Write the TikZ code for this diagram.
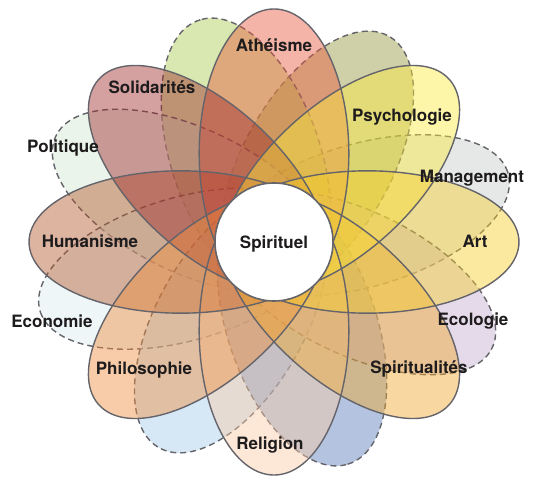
\documentclass[tikz,border=0pt]{standalone}
\usepackage{fontspec}
\setsansfont{TeX Gyre Heros}
\definecolor{edge}{RGB}{100,100,106}
\definecolor{labeltext}{RGB}{30,27,28}
\definecolor{atheisme}{RGB}{231,88,62}
\definecolor{solidarites}{RGB}{159,44,44}
\definecolor{vert}{RGB}{168,204,79}
\definecolor{politique}{RGB}{208,230,208}
\definecolor{humanisme}{RGB}{179,88,44}
\definecolor{economie}{RGB}{217,235,239}
\definecolor{philosophie}{RGB}{239,142,62}
\definecolor{bleuclair}{RGB}{164,204,235}
\definecolor{religion}{RGB}{250,204,168}
\definecolor{bleu}{RGB}{88,124,186}
\definecolor{spiritualites}{RGB}{239,168,44}
\definecolor{ecologie}{RGB}{195,173,208}
\definecolor{art}{RGB}{246,206,44}
\definecolor{management}{RGB}{199,204,204}
\definecolor{psychologie}{RGB}{250,233,62}
\definecolor{olive}{RGB}{151,151,62}
\tikzset{
	petalfill/.style={fill opacity=0.45},
	solidline/.style={draw=edge, line width=1.4pt},
	dashedpetal/.style={petalfill, draw=edge, line width=1.4pt, dash pattern=on 6pt off 4pt},
	petallabel/.style={font=\sffamily\bfseries\fontsize{17}{20}\selectfont, text=labeltext, text height=12.2pt, text depth=0pt, inner sep=0pt}
}
\def\petal[#1](#2){\path[#1, shift={(274pt,243pt)}, xscale=1.025, yscale=0.975, rotate=#2] (91pt,0pt) ellipse [x radius=148pt, y radius=73pt];}

\begin{document}
\begin{tikzpicture}[x=1pt, y=1pt]
			%%%%% START %%%%%
			\useasboundingbox (0, 0) rectangle (539, 485);
			
			% dashed petals
			\petal[dashedpetal, fill=management](17.5)
			\petal[dashedpetal, fill=olive](62.5)
			\petal[dashedpetal, fill=vert](107.5)
			\petal[dashedpetal, fill=politique](152.5)
			\petal[dashedpetal, fill=economie](197.5)
			\petal[dashedpetal, fill=bleuclair](242.5)
			\petal[dashedpetal, fill=bleu](287.5)
			\petal[dashedpetal, fill=ecologie](332.5)
			
			% solid petals
			\petal[petalfill, fill=religion](270)
			\petal[petalfill, fill=humanisme](180)
			\petal[petalfill, fill=atheisme](90)
			\petal[petalfill, fill=solidarites](135)
			\petal[petalfill, fill=philosophie](225)
			\petal[petalfill, fill=spiritualites](315)
			\petal[petalfill, fill=psychologie](45)
			\petal[petalfill, fill=art](0)
			
			\petal[solidline](0)
			\petal[solidline](45)
			\petal[solidline](90)
			\petal[solidline](135)
			\petal[solidline](180)
			\petal[solidline](225)
			\petal[solidline](270)
			\petal[solidline](315)
			
			\node[circle, draw=edge, line width=1.6pt, fill=white, minimum size=118pt, petallabel] (spirituel) at (274, 243) {Spirituel};
			
			\node[petallabel] (latheisme) at (274, 440) {Athéisme};
			\node[petallabel] (lsolidarites) at (152, 398) {Solidarités};
			\node[petallabel] (lpolitique) at (63, 339) {Politique};
			\node[petallabel] (lhumanisme) at (90, 244) {Humanisme};
			\node[petallabel] (leconomie) at (52, 164) {Economie};
			\node[petallabel] (lphilosophie) at (144, 117) {Philosophie};
			\node[petallabel] (lreligion) at (270, 42) {Religion};
			\node[petallabel] (lspiritualites) at (419, 118) {Spiritualités};
			\node[petallabel] (lecologie) at (473, 166) {Ecologie};
			\node[petallabel] (lart) at (475, 244) {Art};
			\node[petallabel] (lmanagement) at (472, 309) {Management};
			\node[petallabel] (lpsychologie) at (402, 370) {Psychologie};
			
			%%%%% END %%%%%
\end{tikzpicture}
\end{document}
